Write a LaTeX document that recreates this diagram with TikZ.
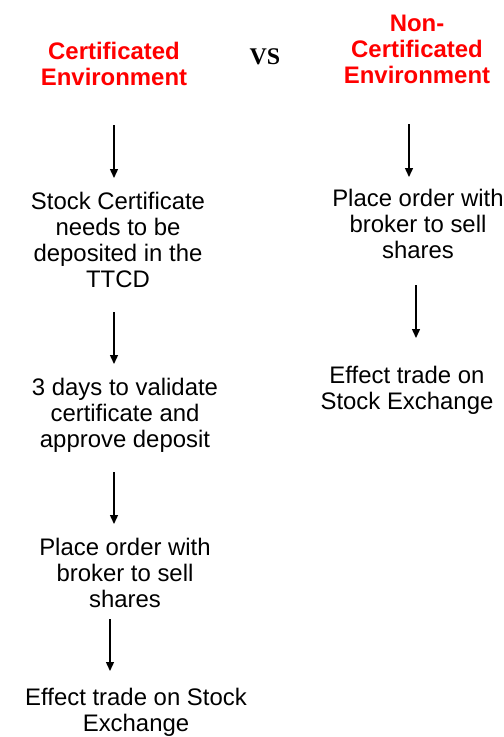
\documentclass[tikz,border=0pt]{standalone}
\usepackage{fontspec}
\setmainfont{Liberation Sans}
\newfontfamily\vsfont{Liberation Serif}
\usetikzlibrary{arrows.meta}

\begin{document}
\begin{tikzpicture}[
        x=1bp, y=1bp,
        >={Triangle[length=9bp, width=8bp]},
        head/.style={font=\fontsize{24}{26}\selectfont\bfseries, text=red, align=center, inner sep=0pt},
        stage/.style={font=\fontsize{24}{26}\selectfont, align=center, inner sep=0pt},
        flow/.style={->, line width=1.4bp}
    ]
    \useasboundingbox (0,0) rectangle (504,-737);
    \def\L{114} \def\R{409}
    % headings
    \node[head] (certHead) at (114,-64) {Certificated\\Environment};
    \node[font=\fontsize{24}{26}\selectfont\vsfont\bfseries] (vs) at (265,-57) {VS};
    \node[head] (nonHead) at (417,-49) {Non-\\Certificated\\Environment};
    % certificated steps
    \node[stage] (deposit) at (118,-240) {Stock Certificate\\needs to be\\deposited in the\\TTCD};
    \node[stage] (validate) at (125,-415) {3 days to validate\\certificate and\\approve deposit};
    \node[stage] (orderL) at (125,-573) {Place order with\\broker to sell\\shares};
    \node[stage] (tradeL) at (136,-712) {Effect trade on Stock\\Exchange};
    % non-certificated steps
    \node[stage] (orderR) at (418,-224) {Place order with\\broker to sell\\shares};
    \node[stage] (tradeR) at (407,-390) {Effect trade on\\Stock Exchange};
    % arrow ends
    \coordinate (l1a) at (\L,-125); \coordinate (l1b) at (\L,-178);
    \coordinate (l2a) at (\L,-312); \coordinate (l2b) at (\L,-364);
    \coordinate (l3a) at (\L,-472); \coordinate (l3b) at (\L,-524);
    \coordinate (l4a) at (110,-619); \coordinate (l4b) at (110,-671);
    \coordinate (r1a) at (\R,-124); \coordinate (r1b) at (\R,-177);
    \coordinate (r2a) at (416,-285); \coordinate (r2b) at (416,-338);
    % arrows
    \foreach \s/\e in {l1a/l1b, l2a/l2b, l3a/l3b, l4a/l4b, r1a/r1b, r2a/r2b}
        \draw[flow] (\s) -- (\e);
\end{tikzpicture}
\end{document}
